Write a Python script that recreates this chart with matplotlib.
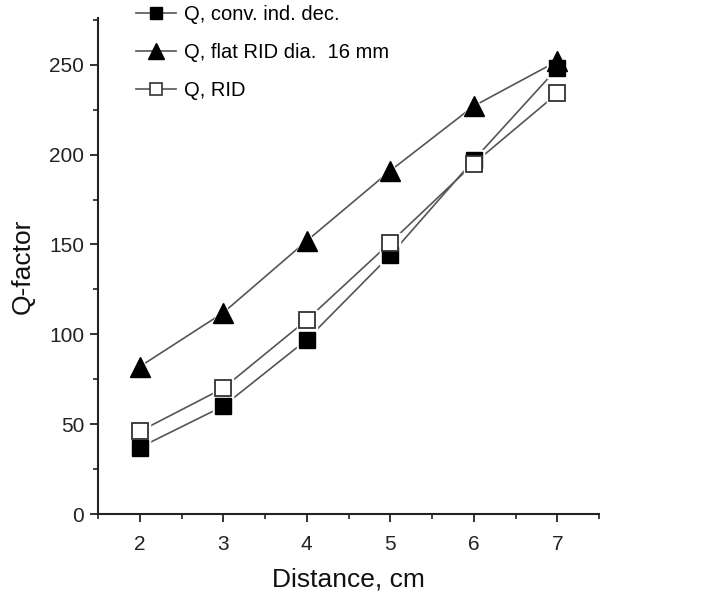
import matplotlib
matplotlib.use("Agg")
import matplotlib.pyplot as plt
from matplotlib.ticker import MultipleLocator

plt.rcParams['font.family'] = ['Liberation Sans', 'DejaVu Sans']

distance = [2, 3, 4, 5, 6, 7]
q_conv = [37, 60, 97, 144, 197, 248]
q_flat = [82, 112, 152, 191, 227, 252]
q_rid = [46, 70, 108, 151, 195, 234]

fig = plt.figure(figsize=(7.15, 6.0), dpi=100)
ax = fig.add_axes([98/715, 86/600, 501/715, 496/600])

lc = '#555555'
# lines
ax.plot(distance, q_conv, '-', color=lc, lw=1.2, zorder=2)
ax.plot(distance, q_flat, '-', color=lc, lw=1.2, zorder=2)
ax.plot(distance, q_rid, '-', color=lc, lw=1.2, zorder=2)
# white halos to leave a small gap between line and marker
ax.plot(distance, q_conv, ls='none', marker='s', ms=15, mfc='white', mec='white', zorder=3)
ax.plot(distance, q_rid, ls='none', marker='s', ms=15, mfc='white', mec='white', zorder=3)
ax.plot(distance, q_flat, ls='none', marker='^', ms=18, mfc='white', mec='white', zorder=3)
# markers
ax.plot(distance, q_conv, ls='none', marker='s', ms=11, mfc='black', mec='black', zorder=4)
ax.plot(distance, q_flat, ls='none', marker='^', ms=14, mfc='black', mec='black', zorder=4)
ax.plot(distance, q_rid, ls='none', marker='s', ms=11, mfc='white', mec='#333333', mew=1.3, zorder=5)

# legend proxies
h1, = ax.plot([], [], '-', color=lc, lw=1.2, marker='s', ms=9, mfc='black', mec='black')
h2, = ax.plot([], [], '-', color=lc, lw=1.2, marker='^', ms=12, mfc='black', mec='black')
h3, = ax.plot([], [], '-', color=lc, lw=1.2, marker='s', ms=9, mfc='white', mec='#333333', mew=1.2)

ax.set_xlim(1.5, 7.5)
ax.set_ylim(0, 276)
ax.xaxis.set_major_locator(MultipleLocator(1))
ax.xaxis.set_minor_locator(MultipleLocator(0.5))
ax.yaxis.set_major_locator(MultipleLocator(50))
ax.yaxis.set_minor_locator(MultipleLocator(25))
ax.spines['top'].set_visible(False)
ax.spines['right'].set_visible(False)
for s in ['left', 'bottom']:
    ax.spines[s].set_linewidth(1.5)
    ax.spines[s].set_color('#222222')
ax.tick_params(which='major', direction='out', length=6, width=1.3, labelsize=15,
               colors='#222222', labelcolor='#222222')
ax.tick_params(which='minor', direction='out', length=3.5, width=1.2, colors='#222222')
ax.tick_params(axis='x', pad=9)
ax.tick_params(axis='y', pad=4)

ax.set_xlabel('Distance, cm', fontsize=19, labelpad=10, color='#111111')
ax.set_ylabel('Q-factor', fontsize=19, labelpad=10, color='#111111')

fig.legend(handles=[h1, h2, h3],
           labels=['Q, conv. ind. dec.', 'Q, flat RID dia.  16 mm', 'Q, RID'],
           loc='upper left', bbox_to_anchor=(118/715, 1.022),
           frameon=False, fontsize=14.5, handlelength=2.0, handletextpad=0.4,
           labelspacing=0.95)

fig.savefig('out.png', dpi=100)
